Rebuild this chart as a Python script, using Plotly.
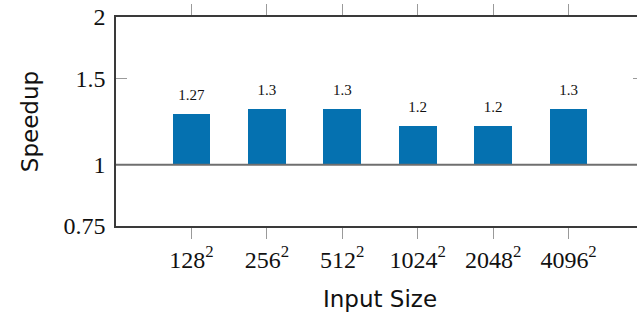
import math
import plotly.graph_objects as go

# Speedup of the optimised kernel over the baseline, per input size
sizes = ["128", "256", "512", "1024", "2048", "4096"]
speedup = [1.27, 1.3, 1.3, 1.2, 1.2, 1.3]
speedup_labels = ["1.27", "1.3", "1.3", "1.2", "1.2", "1.3"]

y_ticks = [0.75, 1, 1.5, 2]
y_tick_text = ["0.75", "1", "1.5", "2"]

baseline = 1.0
xpos = list(range(len(sizes)))
size_text = [f"{s}<sup>2</sup>" for s in sizes]

BAR_COLOR = "#0571b0"
SPINE = "#3a3a3a"
TICK = "#9a9a9a"
SERIF = "Liberation Serif"
SANS = "DejaVu Sans"

fig = go.Figure()
fig.add_trace(go.Bar(
    x=xpos,
    y=[v - baseline for v in speedup],
    base=[baseline] * len(speedup),
    width=0.5,
    marker=dict(color=BAR_COLOR, line=dict(width=0)),
    hovertemplate="%{customdata}<extra></extra>",
    customdata=speedup,
))

# value labels sitting just above each bar top
fig.add_trace(go.Scatter(
    x=xpos, y=speedup, text=speedup_labels,
    mode="markers+text", textposition="top center",
    marker=dict(size=14, opacity=0),
    textfont=dict(family=SERIF, size=15, color="#111"),
    hoverinfo="skip", cliponaxis=False,
))

# reference line at speedup = 1
fig.add_shape(
    type="line", xref="paper", x0=0, x1=1, yref="y", y0=baseline, y1=baseline,
    line=dict(color="#6f6f6f", width=2), layer="above",
)

fig.update_layout(
    width=650, height=320,
    margin=dict(l=116, r=4, t=16, b=94),
    plot_bgcolor="white", paper_bgcolor="white",
    showlegend=False,
    bargap=0,
)
fig.update_xaxes(
    range=[-1, 6],
    tickmode="array", tickvals=xpos, ticktext=size_text,
    ticks="outside", ticklen=11, tickwidth=1.2, tickcolor=TICK,
    showline=True, linecolor=SPINE, linewidth=1.5, mirror="ticks",
    showgrid=False, zeroline=False,
    tickfont=dict(family=SERIF, size=24, color="#111"),
    title=dict(text="Input Size", font=dict(family=SANS, size=23, color="#111"), standoff=19),
)
fig.update_yaxes(
    type="log",
    range=[math.log10(y_ticks[0]), math.log10(y_ticks[-1])],
    tickmode="array", tickvals=y_ticks, ticktext=y_tick_text,
    ticks="inside", ticklen=11, tickwidth=1.2, tickcolor=TICK,
    showline=True, linecolor=SPINE, linewidth=1.5, mirror="ticks",
    showgrid=False, zeroline=False,
    ticklabelstandoff=4,
    tickfont=dict(family=SERIF, size=24, color="#111"),
    title=dict(text="Speedup", font=dict(family=SANS, size=23, color="#111"), standoff=18),
)

fig.write_html(
    "out.html",
    post_script="document.documentElement.style.overflow='hidden';document.body.style.overflow='hidden';",
)
